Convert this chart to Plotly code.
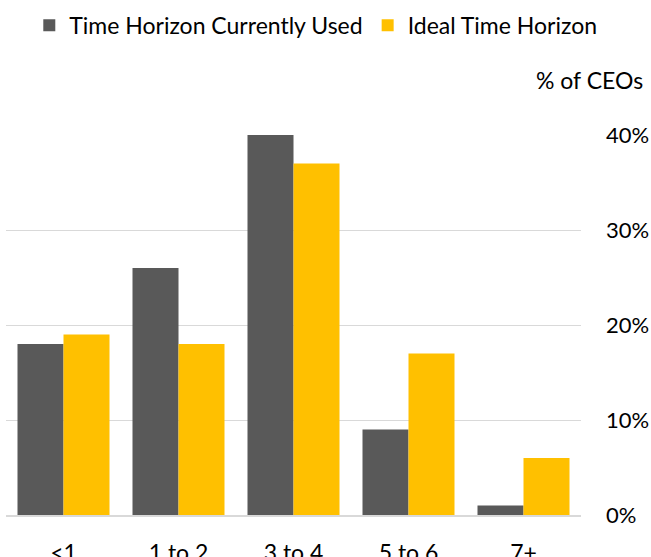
import plotly.graph_objects as go

categories = ["<1", "1 to 2", "3 to 4", "5 to 6", "7+"]
current_used = [18, 26, 40, 9, 1]
ideal = [19, 18, 37, 17, 6]
y_ticks = [0, 10, 20, 30, 40]
y_tick_labels = ["0%", "10%", "20%", "30%", "40%"]

FONT = "Lato, Calibri, Carlito, sans-serif"

fig = go.Figure()
fig.add_trace(go.Bar(name="Time Horizon Currently Used", x=categories, y=current_used,
                     marker_color="#595959", marker_line_width=0))
fig.add_trace(go.Bar(name="Ideal Time Horizon", x=categories, y=ideal,
                     marker_color="#FFC000", marker_line_width=0))

fig.update_layout(
    width=651, height=557,
    margin=dict(l=6, r=70, t=135, b=42, autoexpand=False),
    barmode="group", bargap=0.2, bargroupgap=0,
    plot_bgcolor="white", paper_bgcolor="white",
    font=dict(family=FONT, size=22, color="#000000"),
    showlegend=True,
    legend=dict(orientation="h", x=0.045, xanchor="left", y=0.993, yanchor="top",
                xref="container", yref="container",
                font=dict(size=23), traceorder="normal", itemwidth=30,
                tracegroupgap=0),
    xaxis=dict(showgrid=False, showline=True, linecolor="#d9d9d9", linewidth=2,
               ticks="", tickfont=dict(size=23), ticklabelstandoff=16,
               automargin=False),
    yaxis=dict(side="right", range=[0, 40], tickvals=y_ticks, ticktext=y_tick_labels,
               showgrid=True, gridcolor="#d9d9d9", gridwidth=1, zeroline=False,
               showline=False, ticks="", tickfont=dict(size=22), ticklabelstandoff=24,
               automargin=False),
    annotations=[dict(text="% of CEOs", xref="paper", yref="paper", x=1.111, y=1.0,
                      xanchor="right", yanchor="bottom", yshift=39, showarrow=False,
                      font=dict(size=23))],
)

fig.write_html("out.html")
